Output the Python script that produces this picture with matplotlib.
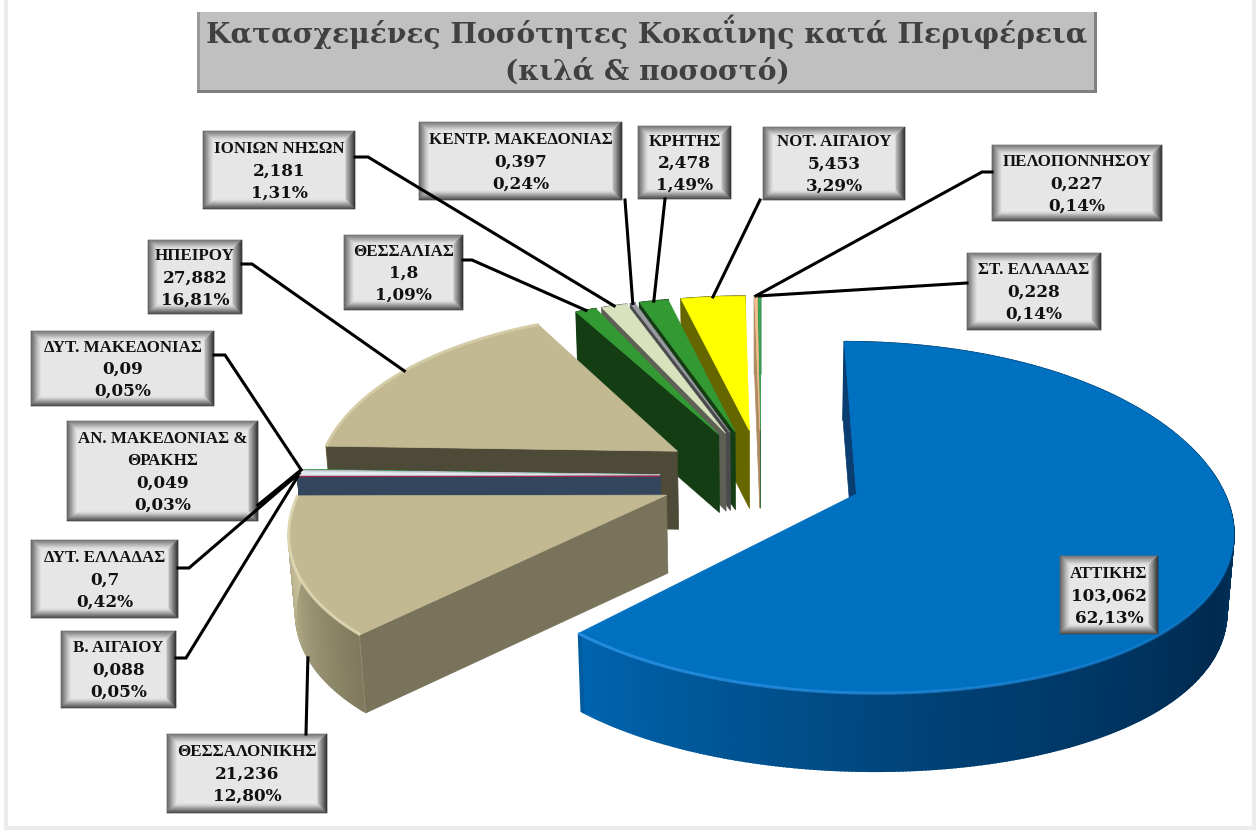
import numpy as np
import matplotlib
matplotlib.use("Agg")
import matplotlib.pyplot as plt
from matplotlib.colors import to_rgb
from matplotlib.patches import Polygon, Rectangle

# data, clockwise from 12 o'clock
regions = ["ΑΤΤΙΚΗΣ", "ΘΕΣΣΑΛΟΝΙΚΗΣ", "Β. ΑΙΓΑΙΟΥ", "ΔΥΤ. ΕΛΛΑΔΑΣ", "ΑΝ. ΜΑΚΕΔΟΝΙΑΣ &\nΘΡΑΚΗΣ",
           "ΔΥΤ. ΜΑΚΕΔΟΝΙΑΣ", "ΗΠΕΙΡΟΥ", "ΘΕΣΣΑΛΙΑΣ", "ΙΟΝΙΩΝ ΝΗΣΩΝ", "ΚΕΝΤΡ. ΜΑΚΕΔΟΝΙΑΣ",
           "ΚΡΗΤΗΣ", "ΝΟΤ. ΑΙΓΑΙΟΥ", "ΠΕΛΟΠΟΝΝΗΣΟΥ", "ΣΤ. ΕΛΛΑΔΑΣ"]
kilos = [103.062, 21.236, 0.088, 0.7, 0.049, 0.09, 27.882, 1.8, 2.181, 0.397, 2.478, 5.453, 0.227, 0.228]

title_1 = "Κατασχεμένες Ποσότητες Κοκαΐνης κατά Περιφέρεια"
title_2 = "(κιλά & ποσοστό)"

# colours per slice
top_colors = ["#0070c0", "#c2b993", "#a02848", "#e2e8f0", "#b8b8c8", "#3a9a50", "#c2b993", "#339933",
              "#d8e2bd", "#9a9aa2", "#339933", "#ffff00", "#f0c090", "#3aa655"]
cut_colors = ["#0a3d70", "#78735a", "#34465e", "#34465e", "#444444", "#1a5a30", "#4d4a38", "#143d14",
              "#5f6055", "#4a4a4c", "#143d14", "#666600", "#b08a60", "#1f7038"]
wall_dark = ["#002a50", "#6a654c", "#34465e", "#34465e", "#444444", "#1a5a30", "#4d4a38", "#143d14",
             "#5f6055", "#4a4a4c", "#143d14", "#666600", "#b08a60", "#1f7038"]
wall_light = ["#0068b4", "#cfc7a0", "#34465e", "#34465e", "#444444", "#1a5a30", "#c2b993", "#143d14",
              "#5f6055", "#4a4a4c", "#143d14", "#666600", "#b08a60", "#1f7038"]
rim_colors = {0: "#2f94e6", 1: "#e2dcb8", 6: "#d8d0aa"}

# layout, pixels of the picture
boxes = [(1060, 556, 1158, 634), (167, 734, 327, 813), (61, 631, 176, 708), (31, 540, 178, 618),
         (67, 421, 258, 521), (31, 331, 214, 406), (148, 240, 242, 314), (344, 235, 463, 310),
         (203, 131, 355, 209), (419, 122, 622, 200), (638, 126, 731, 199), (763, 127, 905, 200),
         (992, 145, 1162, 221), (967, 253, 1101, 330)]
leader_starts = [None, [(306, 734)], [(176, 658), (186, 658)], [(178, 568), (189, 568)], [(258, 505)],
                 [(214, 355), (225, 355)], [(242, 264), (252, 264)], [(463, 260), (472, 260)],
                 [(355, 157), (368, 157)], [(625, 200)], [(665, 199)], [(760, 200)],
                 [(992, 172), (982, 172)], [(967, 283)]]
draw_order = [13, 12, 11, 10, 9, 8, 7, 6, 5, 4, 3, 2, 1, 0]

cx, cy = 761, 476     # centre of the pie on the picture
explode = 101
radius = 362
squash = 0.472
persp_a = 0.000456
persp_b = 3.47e-7
persp_y = 0.00038
depth = 78


def project(x, y):
    return cx + x * (1 - persp_a * y + persp_b * y * y), cy - squash * y * (1 - persp_y * y)


def lower(pt):
    return cx + (pt[0] - cx) * 0.985, pt[1] + depth


def mix(c1, c2, f):
    a, b = np.array(to_rgb(c1)), np.array(to_rgb(c2))
    return tuple(a * (1 - f) + b * f)


def poly(ax, pts, color, lw=0.5):
    ax.add_patch(Polygon(pts, closed=True, facecolor=color, edgecolor=color, lw=lw))


def bevel_box(ax, x0, y0, x1, y1, w=9, fill="#e6e6e6"):
    # concentric frames, dark on the outside, light towards the face
    outer = ["#777777", "#666666", "#333333", "#4a4a4a"]   # top left right bottom
    inner = ["#e0e0e0", "#d4d4d4", "#b4b4b4", "#d8d8d8"]
    ax.add_patch(Rectangle((x0, y0), x1 - x0, y1 - y0, facecolor=fill, edgecolor="none"))
    for i in range(w):
        f = i / (w - 1)
        a, b = i, i + 1
        poly_top = [(x0 + a, y0 + a), (x1 - a, y0 + a), (x1 - b, y0 + b), (x0 + b, y0 + b)]
        poly_left = [(x0 + a, y0 + a), (x0 + b, y0 + b), (x0 + b, y1 - b), (x0 + a, y1 - a)]
        poly_right = [(x1 - a, y0 + a), (x1 - b, y0 + b), (x1 - b, y1 - b), (x1 - a, y1 - a)]
        poly_bot = [(x0 + a, y1 - a), (x1 - a, y1 - a), (x1 - b, y1 - b), (x0 + b, y1 - b)]
        for pts, o, n in zip([poly_top, poly_left, poly_right, poly_bot], outer, inner):
            poly(ax, pts, mix(o, n, f))


fig = plt.figure(figsize=(12.58, 8.31), dpi=100, facecolor="white")
ax = fig.add_axes([0, 0, 1, 1])
ax.set_xlim(0, 1258)
ax.set_ylim(831, 0)
ax.axis("off")

# chart frame
ax.add_patch(Rectangle((6, -5), 1248, 833, facecolor="white", edgecolor="#ececec", lw=3))

total = sum(kilos)
shares = np.array(kilos) / total
ends = np.cumsum(shares) * 360
starts = ends - shares * 360

rim_mid = {}
for i in draw_order:
    t0, t1 = starts[i], ends[i]
    tm = np.radians((t0 + t1) / 2)
    ax0, ay0 = explode * np.sin(tm), explode * np.cos(tm)
    thetas = np.linspace(t0, t1, max(int(t1 - t0) * 2, 3))
    tr = np.radians(thetas)
    rim = [project(ax0 + radius * np.sin(a), ay0 + radius * np.cos(a)) for a in tr]
    apex = project(ax0, ay0)
    rim_mid[i] = project(ax0 + radius * np.sin(tm), ay0 + radius * np.cos(tm))
    if i == 1:
        # this leader meets the foot of the wall, a little towards the front
        ta = np.radians(243)
        rim_mid[i] = lower(project(ax0 + radius * np.sin(ta), ay0 + radius * np.cos(ta)))

    # outer wall, shaded by its angle
    f = np.interp(thetas, [80, 120, 170, 223.6, 223.8, 270, 360], [0.3, 0, 0.35, 0.95, 0.2, 1, 1])
    for j in range(len(rim) - 1):
        c = mix(wall_dark[i], wall_light[i], (f[j] + f[j + 1]) / 2)
        poly(ax, [rim[j], rim[j + 1], lower(rim[j + 1]), lower(rim[j])], c, lw=1.2)

    # cut faces, only those turned to the viewer
    if np.cos(np.radians(t0 - 90)) < 0.01:
        poly(ax, [apex, rim[0], lower(rim[0]), lower(apex)], cut_colors[i])
    if np.cos(np.radians(t1 + 90)) < 0.01:
        poly(ax, [apex, rim[-1], lower(rim[-1]), lower(apex)], cut_colors[i])

    poly(ax, [apex] + rim, top_colors[i])
    if i in rim_colors:
        al = np.interp(thetas, [100, 150, 224, 360], [0, 0.45, 0.85, 0.85])
        for j in range(len(rim) - 1):
            ax.plot([rim[j][0], rim[j + 1][0]], [rim[j][1], rim[j + 1][1]], color=rim_colors[i], lw=2.2,
                    alpha=al[j], solid_capstyle="butt")

# leader lines
for i, st in enumerate(leader_starts):
    if st is None:
        continue
    xs = [p[0] for p in st] + [rim_mid[i][0]]
    ys = [p[1] for p in st] + [rim_mid[i][1]]
    ax.plot(xs, ys, color="black", lw=2.2, solid_joinstyle="miter")

# data labels
line_gap = 22
for i, (x0, y0, x1, y1) in enumerate(boxes):
    bevel_box(ax, x0, y0, x1, y1)
    value = f"{kilos[i]:g}".replace(".", ",")
    pct = f"{kilos[i] / total * 100:.2f}".replace(".", ",") + "%"
    names = regions[i].split("\n")
    lines = names + [value, pct]
    y = (y0 + y1) / 2 + 1 - line_gap * (len(lines) - 1) / 2
    for k, s in enumerate(lines):
        if k < len(names):
            ax.text((x0 + x1) / 2, y + k * line_gap, s, ha="center", va="center",
                    family="Liberation Serif", fontweight="bold", fontsize=12.2, color="#111111")
        else:
            ax.text((x0 + x1) / 2, y + k * line_gap, s, ha="center", va="center",
                    family="DejaVu Serif", fontweight="bold", fontsize=12.2, color="#111111")

# title
ax.add_patch(Rectangle((197, 12), 900, 81, facecolor="#c0c0c0", edgecolor="none"))
ax.add_patch(Rectangle((197, 12), 3, 81, facecolor="#9a9a9a", edgecolor="none"))
ax.add_patch(Rectangle((197, 90), 900, 3, facecolor="#808080", edgecolor="none"))
ax.add_patch(Rectangle((1094, 12), 3, 81, facecolor="#808080", edgecolor="none"))
ax.text(647, 32, title_1, ha="center", va="center", family="DejaVu Serif", fontweight="bold",
        fontsize=20.25, color="#404040")
ax.text(647, 72, title_2, ha="center", va="center", family="DejaVu Serif", fontweight="bold",
        fontsize=20.25, color="#404040")

fig.savefig("out.png", dpi=100)
